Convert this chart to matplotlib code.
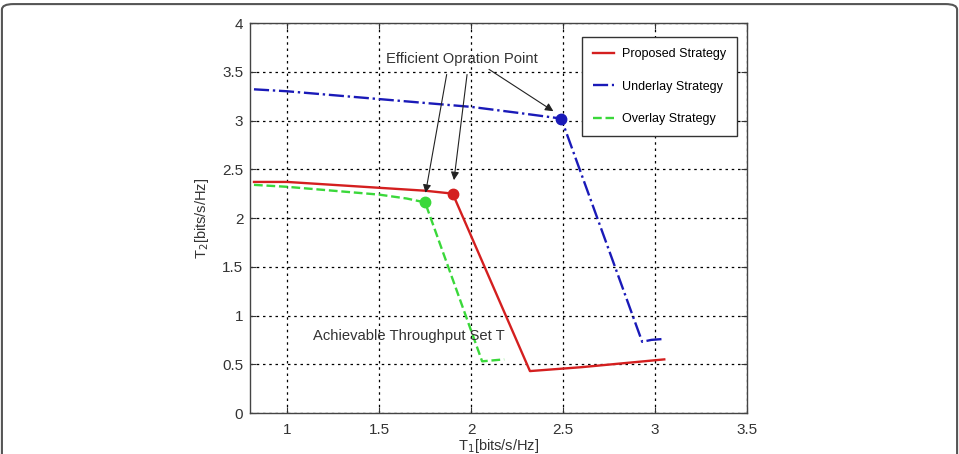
import matplotlib.pyplot as plt
from matplotlib.patches import FancyBboxPatch

plt.rcParams["font.family"] = ["Liberation Sans", "DejaVu Sans"]

# -----------------------------
# Data
# -----------------------------
prop_x = [0.82, 1.0, 1.25, 1.5, 1.75, 1.90, 2.32, 2.6, 3.05]
prop_y = [2.37, 2.37, 2.34, 2.31, 2.28, 2.25, 0.43, 0.47, 0.55]

under_x = [0.82, 1.0, 1.25, 1.5, 1.75, 2.0, 2.25, 2.49, 2.93, 2.98, 3.05]
under_y = [3.32, 3.30, 3.26, 3.22, 3.18, 3.14, 3.08, 3.02, 0.73, 0.75, 0.76]

over_x = [0.82, 1.0, 1.25, 1.5, 1.65, 1.75, 2.06, 2.12, 2.18]
over_y = [2.34, 2.32, 2.28, 2.24, 2.20, 2.16, 0.53, 0.54, 0.55]

# efficient operating points
eff_x = [1.90, 2.49, 1.75]
eff_y = [2.25, 3.02, 2.16]

c_red = "#d41f1f"
c_blue = "#1a1ab8"
c_green = "#3ad83a"

fig = plt.figure(figsize=(9.59, 4.54), dpi=100)
ax = fig.add_axes([0.261, 0.0903, 0.518, 0.859])

ax.plot(prop_x, prop_y, '-', color=c_red, lw=1.7, label='Proposed Strategy')
ax.plot(under_x, under_y, '-.', color=c_blue, lw=1.7, label='Underlay Strategy')
ax.plot(over_x, over_y, '--', color=c_green, lw=1.7, label='Overlay Strategy')

for xx, yy, c in zip(eff_x, eff_y, [c_red, c_blue, c_green]):
    ax.plot(xx, yy, 'o', color=c, ms=7.5)

# annotation
ax.text(1.95, 3.63, 'Efficient Opration Point', ha='center', va='center', fontsize=10.6, color='#333333')
arr = dict(arrowstyle='-|>', color='#222222', lw=0.8, mutation_scale=12)
ax.annotate('', xy=(1.75, 2.23), xytext=(1.87, 3.50), arrowprops=arr)
ax.annotate('', xy=(1.905, 2.36), xytext=(1.98, 3.50), arrowprops=arr)
ax.annotate('', xy=(2.46, 3.08), xytext=(2.085, 3.54), arrowprops=arr)

ax.text(1.14, 0.79, 'Achievable Throughput Set T', ha='left', va='center', fontsize=10.6, color='#333333')

ax.set_xlim(0.8, 3.5)
ax.set_ylim(0, 4)
ax.set_xticks([1, 1.5, 2, 2.5, 3, 3.5])
ax.set_xticklabels(['1', '1.5', '2', '2.5', '3', '3.5'])
ax.set_yticks([0, 0.5, 1, 1.5, 2, 2.5, 3, 3.5, 4])
ax.set_yticklabels(['0', '0.5', '1', '1.5', '2', '2.5', '3', '3.5', '4'])
ax.tick_params(direction='in', length=4, labelsize=11, top=True, right=True, colors='#333333')
ax.tick_params(axis='x', pad=7)
ax.tick_params(axis='y', pad=5)
ax.grid(True, linestyle=(0, (2, 3)), color='black', lw=0.9)
for s in ax.spines.values():
    s.set_color('#444444')
    s.set_linewidth(1.0)

ax.set_ylabel('T$_2$[bits/s/Hz]', fontsize=10.5, color='#333333', labelpad=8)
ax.set_xlabel('T$_1$[bits/s/Hz]', fontsize=10.5, color='#333333', labelpad=0)

leg = ax.legend(loc='upper right', bbox_to_anchor=(0.979, 0.963), fontsize=9,
                frameon=True, fancybox=False, edgecolor='#333333', facecolor='white',
                framealpha=1, handlelength=1.7, labelspacing=1.65, borderpad=0.85,
                handletextpad=0.65, borderaxespad=0)
leg.get_frame().set_linewidth(1.0)

# rounded frame around the whole picture
frame = FancyBboxPatch((0.002, -0.1), 0.996, 1.091, boxstyle='round,pad=0,rounding_size=0.012',
                       transform=fig.transFigure, facecolor='none', edgecolor='#555555', lw=1.5)
fig.patches.append(frame)

fig.savefig('out.png', dpi=100)
